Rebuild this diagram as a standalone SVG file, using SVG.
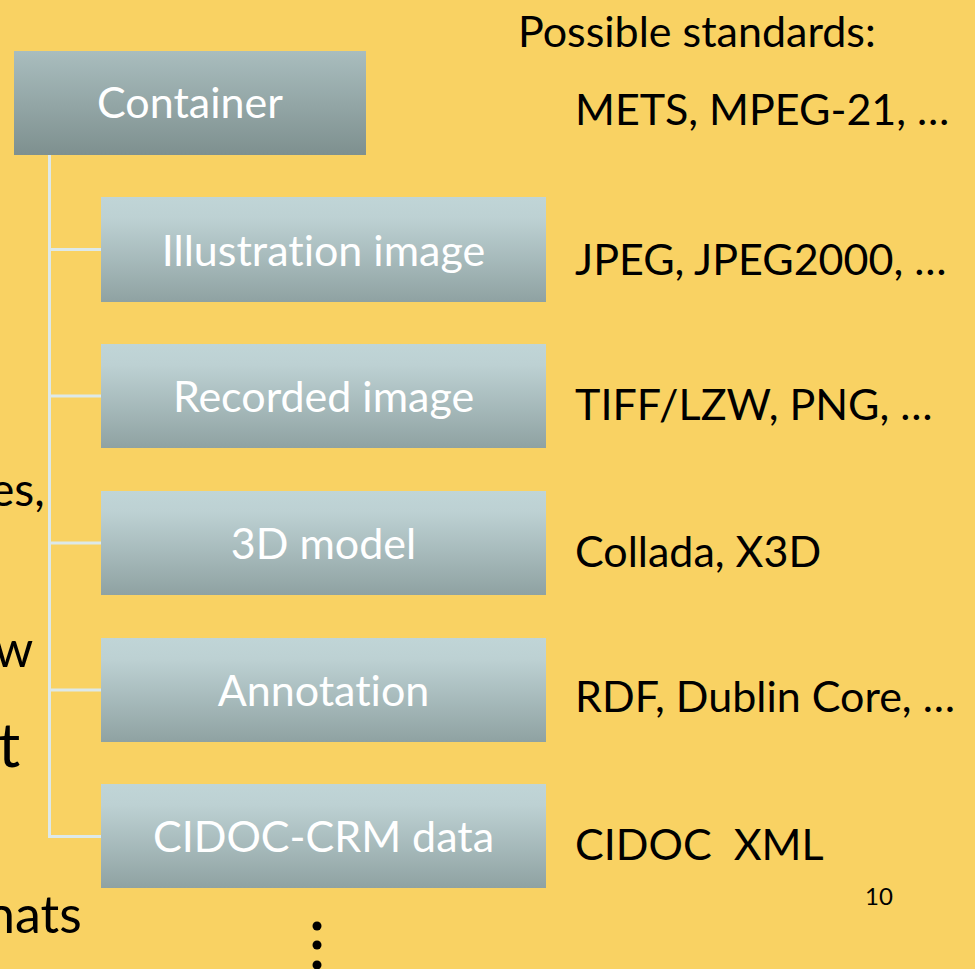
<svg xmlns="http://www.w3.org/2000/svg" width="975" height="969" viewBox="0 0 975 969">
<defs>
<linearGradient id="gTop" x1="0" y1="0" x2="0" y2="1">
<stop offset="0" stop-color="#a9bdbe"/>
<stop offset="1" stop-color="#7e908f"/>
</linearGradient>
<linearGradient id="gChild" x1="0" y1="0" x2="0" y2="1">
<stop offset="0" stop-color="#c0d5d7"/>
<stop offset="0.2" stop-color="#bdd1d3"/>
<stop offset="1" stop-color="#8fa2a2"/>
</linearGradient>
<style>
text{font-variant-ligatures:none;}
.box{fill:url(#gChild);}
.lbl{font-family:Lato,"Open Sans",sans-serif;font-size:43px;fill:#ffffff;text-anchor:middle;}
.std{font-family:Lato,"Open Sans",sans-serif;font-size:43px;fill:#000000;}
.side{font-family:Lato,"Open Sans",sans-serif;fill:#000000;}
.conn{stroke:#dde9e9;stroke-width:3;fill:none;}
</style>
</defs>
<rect x="0" y="0" width="975" height="969" fill="#f9d263"/>
<g id="left-fragments">
<text class="side" x="-10" y="506" font-size="46">es,</text>
<text class="side" x="-6" y="667" font-size="50">w</text>
<text class="side" x="-2" y="767" font-size="62">t</text>
<text class="side" x="-14" y="933" font-size="52">nats</text>
</g>
<g id="connectors">
<path class="conn" d="M49.5 155 V836.5 H101"/>
<path class="conn" d="M49.5 249.5 H101"/>
<path class="conn" d="M49.5 396 H101"/>
<path class="conn" d="M49.5 543 H101"/>
<path class="conn" d="M49.5 690 H101"/>
</g>
<g id="container">
<rect x="14" y="51" width="352" height="104" fill="url(#gTop)"/>
<text class="lbl" x="190" y="118" font-size="44">Container</text>
</g>
<g id="illustration">
<rect class="box" x="101" y="197" width="445" height="105"/>
<text class="lbl" x="323.5" y="266">Illustration image</text>
</g>
<g id="recorded">
<rect class="box" x="101" y="344" width="445" height="104"/>
<text class="lbl" x="323.5" y="412">Recorded image</text>
</g>
<g id="model3d">
<rect class="box" x="101" y="491" width="445" height="104"/>
<text class="lbl" x="323.5" y="559">3D model</text>
</g>
<g id="annotation">
<rect class="box" x="101" y="638" width="445" height="104"/>
<text class="lbl" x="323.5" y="706">Annotation</text>
</g>
<g id="cidoc">
<rect class="box" x="101" y="784" width="445" height="104"/>
<text class="lbl" x="323.5" y="852">CIDOC-CRM data</text>
</g>
<g id="standards">
<text class="std" x="518" y="47">Possible standards:</text>
<text class="std" x="575" y="125">METS, MPEG-21, …</text>
<text class="std" x="575" y="275" font-size="41">JPEG, JPEG2000, …</text>
<text class="std" x="575" y="420">TIFF/LZW, PNG, …</text>
<text class="std" x="575" y="567">Collada, X3D</text>
<text class="std" x="575" y="712">RDF, Dublin Core, …</text>
<text class="std" x="575" y="860" xml:space="preserve">CIDOC  XML</text>
</g>
<text x="879" y="905" font-family="Lato,'Open Sans',sans-serif" font-size="24" text-anchor="middle" fill="#000000">10</text>
<g id="dots" fill="#000000">
<circle cx="317" cy="926" r="4.5"/>
<circle cx="317" cy="945" r="4.5"/>
<circle cx="317" cy="965" r="4.5"/>
</g>
</svg>
